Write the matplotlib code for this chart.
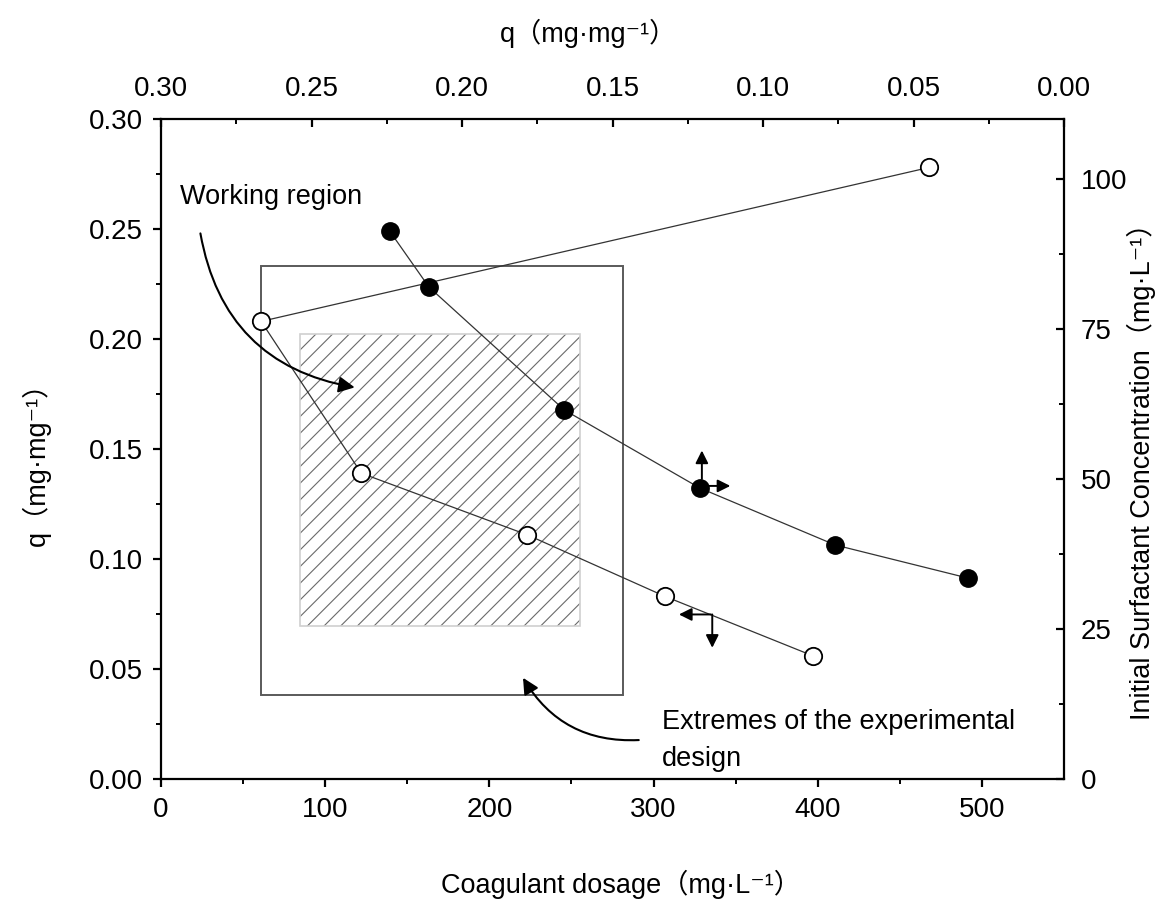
import numpy as np
import matplotlib
matplotlib.use("Agg")
import matplotlib.pyplot as plt
import matplotlib.transforms as mtrans
from matplotlib.patches import Rectangle


# ----------------------------------------
# datos
# ----------------------------------------
# circulos abiertos: dosis de coagulante (eje inferior) vs q (eje izquierdo)
dosis_abiertos = [468, 61, 122, 223, 307, 397]
q_abiertos = [0.278, 0.208, 0.139, 0.111, 0.083, 0.056]

# circulos llenos: q (eje superior) vs concentracion inicial (eje derecho)
q_llenos = [0.224, 0.211, 0.166, 0.121, 0.076, 0.032]
conc_llenos = [91.3, 82.0, 61.5, 48.5, 39.0, 33.5]

# cajas: extremos del diseno y region de trabajo (dosis_min, dosis_max, q_min, q_max)
caja_extremos = [61, 281.5, 0.038, 0.233]
caja_trabajo = [84.5, 255, 0.0695, 0.2025]

ticks_abajo = [0, 100, 200, 300, 400, 500]
ticks_izq = [0.00, 0.05, 0.10, 0.15, 0.20, 0.25, 0.30]
ticks_arriba = [0.30, 0.25, 0.20, 0.15, 0.10, 0.05, 0.00]
ticks_der = [0, 25, 50, 75, 100]

FAM = ["Liberation Sans", "Noto Sans CJK SC", "DejaVu Sans"]
FS_TICK = 20
FS_TXT = 19.5

plt.rcParams["font.family"] = FAM
plt.rcParams["hatch.linewidth"] = 0.8

fig = plt.figure(figsize=(11.56, 9), dpi=100)
rect = [161 / 1156, 121 / 900, 903 / 1156, 660 / 900]

ax = fig.add_axes(rect)
ax.set_xlim(0, 550)
ax.set_ylim(0, 0.30)

ax2 = fig.add_axes(rect, frameon=False)
ax2.set_xlim(0.30, 0.0)
ax2.set_ylim(0, 110)
ax2.patch.set_alpha(0)

# ----------------------------------------
# cajas
# ----------------------------------------
x0, x1, y0, y1 = caja_trabajo
ax.add_patch(Rectangle((x0, y0), x1 - x0, y1 - y0, fill=False, hatch="//",
                       edgecolor="#6a6a6a", linewidth=0, zorder=1))
ax.add_patch(Rectangle((x0, y0), x1 - x0, y1 - y0, fill=False,
                       edgecolor="#d0d0d0", linewidth=1.2, zorder=1))
x0, x1, y0, y1 = caja_extremos
ax.add_patch(Rectangle((x0, y0), x1 - x0, y1 - y0, fill=False,
                       edgecolor="#5a5a5a", linewidth=1.4, zorder=1))

# ----------------------------------------
# series
# ----------------------------------------
ax.plot(dosis_abiertos, q_abiertos, color="#333333", lw=0.9, marker="o",
        markersize=12.5, markerfacecolor="white", markeredgecolor="black",
        markeredgewidth=1.3, zorder=3)
ax2.plot(q_llenos, conc_llenos, color="#333333", lw=0.9, marker="o",
         markersize=12.5, markerfacecolor="black", markeredgecolor="black",
         zorder=3)

# ----------------------------------------
# ejes y ticks
# ----------------------------------------
for s in ax.spines.values():
    s.set_linewidth(1.6)

ax.set_xticks(ticks_abajo)
ax.set_xticks(np.arange(50, 550, 100), minor=True)
ax.set_yticks(ticks_izq)
ax.set_yticks(np.arange(0.025, 0.30, 0.05), minor=True)
ax.set_xticklabels([str(t) for t in ticks_abajo], fontsize=FS_TICK)
ax.set_yticklabels([f"{t:.2f}" for t in ticks_izq], fontsize=FS_TICK)
ax.tick_params(which="major", direction="out", length=6, width=1.6, pad=7)
ax.tick_params(which="minor", direction="out", length=3.5, width=1.4)

ax2.xaxis.tick_top()
ax2.yaxis.tick_right()
ax2.set_xticks(ticks_arriba)
ax2.set_xticks(np.arange(0.025, 0.30, 0.05), minor=True)
ax2.set_yticks(ticks_der)
ax2.set_yticks(np.arange(12.5, 110, 25), minor=True)
ax2.set_xticklabels([f"{t:.2f}" for t in ticks_arriba], fontsize=FS_TICK)
ax2.set_yticklabels([str(t) for t in ticks_der], fontsize=FS_TICK)
ax2.tick_params(which="major", direction="in", length=6, width=1.6, pad=12)
ax2.tick_params(which="minor", direction="in", length=3.5, width=1.4)

# etiquetas de los ejes
fig.text(0.031, 0.492, "q（mg·mg⁻¹）", rotation=90, ha="center", va="center", fontsize=FS_TXT)
fig.text(0.5095, 0.963, "q（mg·mg⁻¹）", ha="center", va="center", fontsize=FS_TXT)
fig.text(0.987, 0.483, "Initial Surfactant Concentration（mg·L⁻¹）", rotation=90,
         ha="center", va="center", fontsize=FS_TXT)
fig.text(0.537, 0.017, "Coagulant dosage（mg·L⁻¹）", ha="center", va="center",
         fontsize=FS_TXT)

# ----------------------------------------
# anotaciones
# ----------------------------------------
ax.text(11.5, 0.2645, "Working region", ha="left", va="center", fontsize=FS_TXT)
ax.annotate("", xy=(118, 0.178), xytext=(24, 0.248),
            arrowprops=dict(arrowstyle="-|>", color="black", lw=1.5,
                            mutation_scale=24, shrinkA=0, shrinkB=0,
                            connectionstyle="arc3,rad=0.35"))

ax.text(305, 0.0177, "Extremes of the experimental\ndesign", ha="left", va="center",
        fontsize=FS_TXT, linespacing=1.55)
ax.annotate("", xy=(220.5, 0.046), xytext=(291, 0.0177),
            arrowprops=dict(arrowstyle="-|>", color="black", lw=1.5,
                            mutation_scale=24, shrinkA=0, shrinkB=0,
                            connectionstyle="arc3,rad=-0.3"))

# flechas pequenas que indican a que ejes pertenece cada serie
flecha = dict(arrowstyle="-|>", color="black", lw=1.4, mutation_scale=19,
              shrinkA=0, shrinkB=0)


def flechita(eje, punto, ini, fin):
    # ini y fin son desplazamientos en puntos respecto al punto de datos
    t_ini = eje.transData + mtrans.ScaledTranslation(ini[0] / 72, ini[1] / 72, fig.dpi_scale_trans)
    t_fin = eje.transData + mtrans.ScaledTranslation(fin[0] / 72, fin[1] / 72, fig.dpi_scale_trans)
    eje.annotate("", xy=punto, xycoords=t_fin, xytext=punto, textcoords=t_ini,
                 arrowprops=flecha, annotation_clip=False)


pt_lleno = (q_llenos[3], conc_llenos[3])
flechita(ax2, pt_lleno, (1.5, 6.5), (1.5, 27))
flechita(ax2, pt_lleno, (6, 1.5), (22, 1.5))

pt_abierto = (dosis_abiertos[4], q_abiertos[4])
flechita(ax, pt_abierto, (33, -13), (10, -13))
flechita(ax, pt_abierto, (34, -13), (34, -37))

fig.savefig("out.png", dpi=100)
